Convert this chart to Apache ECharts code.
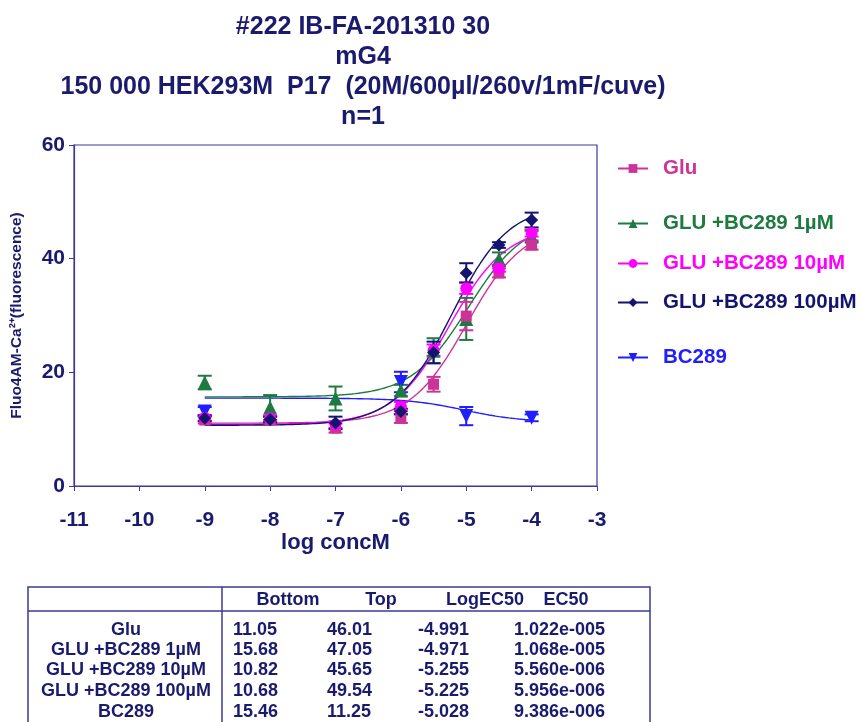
<!DOCTYPE html>
<html><head><meta charset="utf-8">
<script src="https://cdn.jsdelivr.net/npm/echarts@6/dist/echarts.min.js"></script>
<style>html,body{margin:0;padding:0;background:#fff}#c{width:861px;height:722px}</style>
</head><body><div id="c"></div>
<script>
// ---- data ----
var xDoses = [-9, -8, -7, -6, -5.5, -5, -4.5, -4];
var xBC = [-9, -6, -5, -4];
var seriesNames = ['Glu', 'GLU +BC289 1µM', 'GLU +BC289 10µM', 'GLU +BC289 100µM', 'BC289'];
var gluVals   = [11.6, 11.6, 10.2, 11.9, 17.9, 29.9, 37.5, 42.4];
var gluErr    = [0.6, 0.6, 0.8, 0.8, 1.3, 2.5, 0.8, 0.8];
var glu1Vals  = [18.2, 13.8, 15.4, 16.8, 23.8, 29.4, 39.9, 43.9];
var glu1Err   = [1.2, 2.2, 2.1, 1.0, 2.2, 3.7, 1.2, 1.0];
var glu10Vals = [12.0, 11.9, 10.8, 14.0, 23.9, 34.8, 38.3, 44.5];
var glu10Err  = [0.5, 0.5, 0.6, 0.8, 1.0, 1.0, 0.6, 0.6];
var glu100Vals= [11.9, 11.7, 11.1, 13.1, 23.5, 37.5, 42.4, 46.8];
var glu100Err = [0.5, 0.5, 1.1, 0.5, 1.9, 1.7, 0.5, 1.3];
var bcVals    = [13.1, 18.3, 12.3, 12.0];
var bcErr     = [0.8, 1.8, 1.6, 0.6];
// fit parameters (table)
var tableHeader = ['Bottom', 'Top', 'LogEC50', 'EC50'];
var fitBottom = [11.05, 15.68, 10.82, 10.68, 15.46];
var fitTop    = [46.01, 47.05, 45.65, 49.54, 11.25];
var fitLogEC50= [-4.991, -4.971, -5.255, -5.225, -5.028];
var fitEC50   = ['1.022e-005', '1.068e-005', '5.560e-006', '5.956e-006', '9.386e-006'];
var xTicks = [-11, -10, -9, -8, -7, -6, -5, -4, -3];
var yTicks = [0, 20, 40, 60];

var colors = ['#CC3399', '#1E7B40', '#FF00FF', '#141470', '#1E1EFF'];
var symbols = ['rect', 'triangle', 'circle', 'diamond', 'path://M0,0 L10,0 L5,10 Z'];
var symSizes = [11, 14, 12, 13, 14];
var navy = '#1A1A6E';
var axisCol = '#3A3A9A';
var font = 'Liberation Sans, Arial, sans-serif';

var groups = [
  {x: xDoses, v: gluVals, e: gluErr},
  {x: xDoses, v: glu1Vals, e: glu1Err},
  {x: xDoses, v: glu10Vals, e: glu10Err},
  {x: xDoses, v: glu100Vals, e: glu100Err},
  {x: xBC, v: bcVals, e: bcErr}
];

function curve(i) {
  var pts = [];
  for (var k = 0; k <= 100; k++) {
    var x = -9 + k * 0.05;
    var y = fitBottom[i] + (fitTop[i] - fitBottom[i]) / (1 + Math.pow(10, fitLogEC50[i] - x));
    pts.push([x, y]);
  }
  return pts;
}

var series = [];
var drawOrder = [4, 1, 0, 2, 3];
drawOrder.forEach(function (i) {
  series.push({
    name: seriesNames[i], type: 'line', data: curve(i), showSymbol: false,
    symbol: symbols[i], symbolSize: symSizes[i] - 3,
    lineStyle: {color: colors[i], width: 1.4}, itemStyle: {color: colors[i]},
    z: 2, silent: true, animation: false
  });
});
drawOrder.forEach(function (i) {
  var g = groups[i];
  series.push({
    name: seriesNames[i] + ' err', type: 'custom', z: 3, animation: false,
    data: g.x.map(function (x, k) { return [x, g.v[k], g.e[k]]; }),
    renderItem: function (params, api) {
      var x = api.value(0), y = api.value(1), e = api.value(2);
      var top = api.coord([x, y + e]), bot = api.coord([x, y - e]);
      var hw = 7;
      var st = {stroke: colors[i], lineWidth: 2};
      return {type: 'group', children: [
        {type: 'line', shape: {x1: top[0], y1: top[1], x2: bot[0], y2: bot[1]}, style: st},
        {type: 'line', shape: {x1: top[0] - hw, y1: top[1], x2: top[0] + hw, y2: top[1]}, style: st},
        {type: 'line', shape: {x1: bot[0] - hw, y1: bot[1], x2: bot[0] + hw, y2: bot[1]}, style: st}
      ]};
    }
  });
  series.push({
    name: seriesNames[i] + ' pts', type: 'scatter', z: 4, animation: false,
    data: g.x.map(function (x, k) { return [x, g.v[k]]; }),
    symbol: symbols[i], symbolSize: symSizes[i],
    itemStyle: {color: colors[i], opacity: 1}
  });
});

var legendTops = [153, 208, 248, 287, 342];
var legends = seriesNames.map(function (n, i) {
  return {
    left: 612, top: legendTops[i], orient: 'vertical', itemWidth: 30, itemHeight: 11, itemGap: 0,
    selectedMode: false,
    data: [{name: n, textStyle: {color: colors[i]}}],
    textStyle: {fontFamily: font, fontWeight: 'bold', fontSize: 20.5, padding: [0, 0, 0, 10]}
  };
});

// table graphics
var tbl = [];
var tL = 28, tR = 650, tT = 587, tB = 730, tDiv = 222, tHdr = 611;
tbl.push({type: 'rect', shape: {x: tL, y: tT, width: tR - tL, height: tB - tT}, style: {fill: 'none', stroke: axisCol, lineWidth: 1.5}});
tbl.push({type: 'line', shape: {x1: tL, y1: tHdr, x2: tR, y2: tHdr}, style: {stroke: axisCol, lineWidth: 1.5}});
tbl.push({type: 'line', shape: {x1: tDiv, y1: tT, x2: tDiv, y2: tB}, style: {stroke: axisCol, lineWidth: 1.5}});
var hdrX = [288, 381, 485, 566];
tableHeader.forEach(function (h, j) {
  tbl.push({type: 'text', x: hdrX[j], y: 600, style: {text: h, fill: navy, font: 'bold 18px ' + font, textAlign: 'center', textVerticalAlign: 'middle'}});
});
var rowY = [630, 650, 670, 691, 712];
seriesNames.forEach(function (n, r) {
  var y = rowY[r];
  var st = function (t, x, al) {
    return {type: 'text', x: x, y: y, style: {text: t, fill: navy, font: 'bold 18px ' + font, textAlign: al, textVerticalAlign: 'middle'}};
  };
  tbl.push(st(n, 126, 'center'));
  tbl.push(st(fitBottom[r].toFixed(2), 233, 'left'));
  tbl.push(st(fitTop[r].toFixed(2), 327, 'left'));
  tbl.push(st(fitLogEC50[r].toFixed(3), 418, 'left'));
  tbl.push(st(fitEC50[r], 605, 'right'));
});

var chart = echarts.init(document.getElementById('c'), null, {renderer: 'canvas'});
chart.setOption({
  backgroundColor: '#fff',
  animation: false,
  title: {
    text: '#222 IB-FA-201310 30\nmG4\n150 000 HEK293M  P17  (20M/600µl/260v/1mF/cuve)\nn=1',
    left: 358, top: 7, textAlign: 'center',
    textStyle: {fontFamily: font, fontWeight: 'bold', fontSize: 25, color: navy, lineHeight: 30}
  },
  legend: legends,
  grid: {left: 74, right: 264, top: 145, bottom: 236, show: true, borderColor: axisCol, borderWidth: 1.2, containLabel: false, outerBoundsMode: 'none'},
  xAxis: {
    type: 'value', min: xTicks[0], max: xTicks[xTicks.length - 1], interval: 1,
    name: 'log concM', nameLocation: 'middle', nameGap: 46,
    nameTextStyle: {fontFamily: font, fontWeight: 'bold', fontSize: 22, color: navy},
    axisLine: {lineStyle: {color: axisCol, width: 1.2}},
    axisTick: {show: true, inside: false, length: 5, lineStyle: {color: axisCol}},
    axisLabel: {margin: 24, fontFamily: font, fontWeight: 'bold', fontSize: 21, color: navy},
    splitLine: {show: false}
  },
  yAxis: {
    type: 'value', min: yTicks[0], max: yTicks[yTicks.length - 1], interval: 20,
    name: 'Fluo4AM-Ca²⁺(fluorescence)', nameLocation: 'middle', nameGap: 49, nameRotate: 90,
    nameTextStyle: {fontFamily: font, fontWeight: 'bold', fontSize: 15.5, color: navy},
    axisLine: {lineStyle: {color: axisCol, width: 1.2}},
    axisTick: {show: true, inside: false, length: 5, lineStyle: {color: axisCol}},
    axisLabel: {margin: 9, fontFamily: font, fontWeight: 'bold', fontSize: 21, color: navy},
    splitLine: {show: false}
  },
  graphic: tbl,
  series: series
});
</script>
</body></html>
